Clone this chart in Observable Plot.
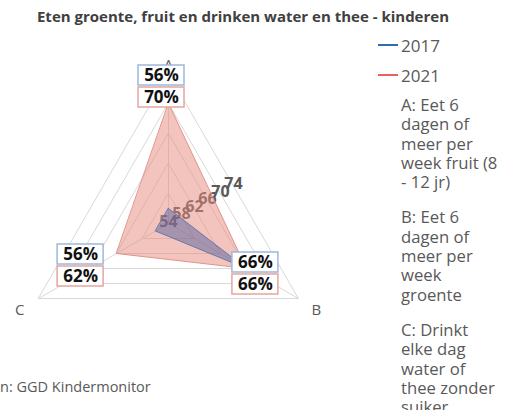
<!DOCTYPE html>
<html><head><meta charset="utf-8">
<script src="https://cdn.jsdelivr.net/npm/d3@7"></script>
<script src="https://cdn.jsdelivr.net/npm/@observablehq/plot@0.6"></script>
<style>
html,body{margin:0;padding:0;background:#fff;}
#wrap{position:relative;width:505px;height:410px;overflow:hidden;font-family:"Open Sans",sans-serif;color:#595959;}
#chart{position:absolute;left:0;top:0;}
#title{position:absolute;left:0;width:486px;top:6px;text-align:center;font-weight:700;font-size:15px;color:#404040;white-space:nowrap;}
#legend{position:absolute;left:378px;top:33px;font-size:17px;}
.lg{display:flex;align-items:center;height:24px;margin-bottom:6px;}
.sw{width:20px;height:2px;margin-right:3px;}
#notes{position:absolute;left:401px;top:95px;font-size:16.7px;line-height:19.3px;}
#notes p{margin:0 0 16px 0;}
#caption{position:absolute;left:0;top:377px;font-size:14.5px;white-space:nowrap;}
</style>
</head><body>
<div id="wrap">
  <div id="chart"></div>
  <div id="title"></div>
  <div id="legend"></div>
  <div id="notes"></div>
  <div id="caption"></div>
</div>
<script>
// ---- data ----
const titleText = "Eten groente, fruit en drinken water en thee - kinderen";
const axes = ["A", "B", "C"];
const seriesNames = ["2017", "2021"];
const values2017 = [56, 66, 56];
const values2021 = [70, 66, 62];
const tickValues = [54, 58, 62, 66, 70, 74];
const axisNotes = [
  ["A: Eet 6", "dagen of", "meer per", "week fruit (8", "- 12 jr)"],
  ["B: Eet 6", "dagen of", "meer per", "week", "groente"],
  ["C: Drinkt", "elke dag", "water of", "thee zonder", "suiker"]
];
const captionText = "n: GGD Kindermonitor";

// ---- style / layout ----
const W = 505, H = 410, CX = 168, CY = 223, R = 150;
const colors = {"2017": "#2e6db4", "2021": "#e8645a"};
const fills = {"2017": {fill: "#4a5a9e", op: 0.45, stroke: "#6677aa"}, "2021": {fill: "#e8897c", op: 0.5, stroke: "#e29488"}};
const boxBorder = {"2017": "#9db7dc", "2021": "#e4a69e"};
const boxOffset = {A: [-7, 2], B: [-43, -36], C: [42, -44]}; // px, relative to outer vertex
const boxGap = 22, boxW = 46, boxH = 20;
const axisLabelOffset = {A: [0, -8], B: [18, 12], C: [-19, 12]};

const rScale = d3.scaleLinear().domain([tickValues[0], tickValues[tickValues.length - 1]]).range([0, 1]);
const ang = i => i * 2 * Math.PI / axes.length;
const px = (i, v) => rScale(v) * Math.sin(ang(i));
const py = (i, v) => rScale(v) * Math.cos(ang(i));
const maxV = tickValues[tickValues.length - 1];

const seriesValues = {"2017": values2017, "2021": values2021};

const ringData = tickValues.slice(1).flatMap(t => axes.map((a, i) => ({t, x: px(i, t), y: py(i, t)})));
const polys = seriesNames.map(s => axes.map((a, i) => ({s, x: px(i, seriesValues[s][i]), y: py(i, seriesValues[s][i])})));

const boxes = seriesNames.flatMap((s, si) => axes.map((a, i) => {
  const cx = px(i, maxV) + boxOffset[a][0] / R;
  const cy = py(i, maxV) - (boxOffset[a][1] + si * boxGap) / R;
  return {s, cx, cy, label: seriesValues[s][i] + "%"};
}));

const marks = [
  Plot.line(ringData, {x: "x", y: "y", z: "t", curve: "linear-closed", stroke: "#d9d9d9", strokeWidth: 1}),
  Plot.link(axes, {x1: () => 0, y1: () => 0, x2: (a, i) => px(i, maxV), y2: (a, i) => py(i, maxV), stroke: "#d9d9d9", strokeWidth: 1}),
  Plot.text(tickValues, {
    x: t => rScale(t) * (Math.sin(ang(0)) + Math.sin(ang(1))) / 2,
    y: t => rScale(t) * (Math.cos(ang(0)) + Math.cos(ang(1))) / 2,
    text: d => String(d), fontWeight: "bold", fontSize: 16, fill: "#595959", dy: -2
  }),
  ...axes.map((a, i) => Plot.text([a], {x: () => px(i, maxV), y: () => py(i, maxV), text: d => d,
    dx: axisLabelOffset[a][0], dy: axisLabelOffset[a][1], fontSize: 15, fill: "#595959"})),
  ...["2021", "2017"].map(s => Plot.line(polys[seriesNames.indexOf(s)], {x: "x", y: "y", curve: "linear-closed",
    fill: fills[s].fill, fillOpacity: fills[s].op, stroke: fills[s].stroke, strokeWidth: 1})),
  ...seriesNames.map(s => Plot.rect(boxes.filter(b => b.s === s), {
    x1: b => b.cx - boxW / 2 / R, x2: b => b.cx + boxW / 2 / R,
    y1: b => b.cy - boxH / 2 / R, y2: b => b.cy + boxH / 2 / R,
    fill: "white", stroke: boxBorder[s], strokeWidth: 1.5})),
  Plot.text(boxes, {x: "cx", y: "cy", text: "label", fontWeight: "bold", fontSize: 17, fill: "#111"})
];

const chart = Plot.plot({
  width: W, height: H, margin: 0,
  style: {fontFamily: "'Open Sans', sans-serif", background: "transparent"},
  x: {domain: [-CX / R, (W - CX) / R], range: [0, W], axis: null},
  y: {domain: [-(H - CY) / R, CY / R], range: [H, 0], axis: null},
  marks
});
document.getElementById("chart").appendChild(chart);

document.getElementById("title").textContent = titleText;
document.getElementById("legend").innerHTML = seriesNames.map(s =>
  `<div class="lg"><span class="sw" style="background:${colors[s]}"></span><span>${s}</span></div>`).join("");
document.getElementById("notes").innerHTML = axisNotes.map(lines => `<p>${lines.join("<br>")}</p>`).join("");
document.getElementById("caption").textContent = captionText;
</script>
</body></html>
